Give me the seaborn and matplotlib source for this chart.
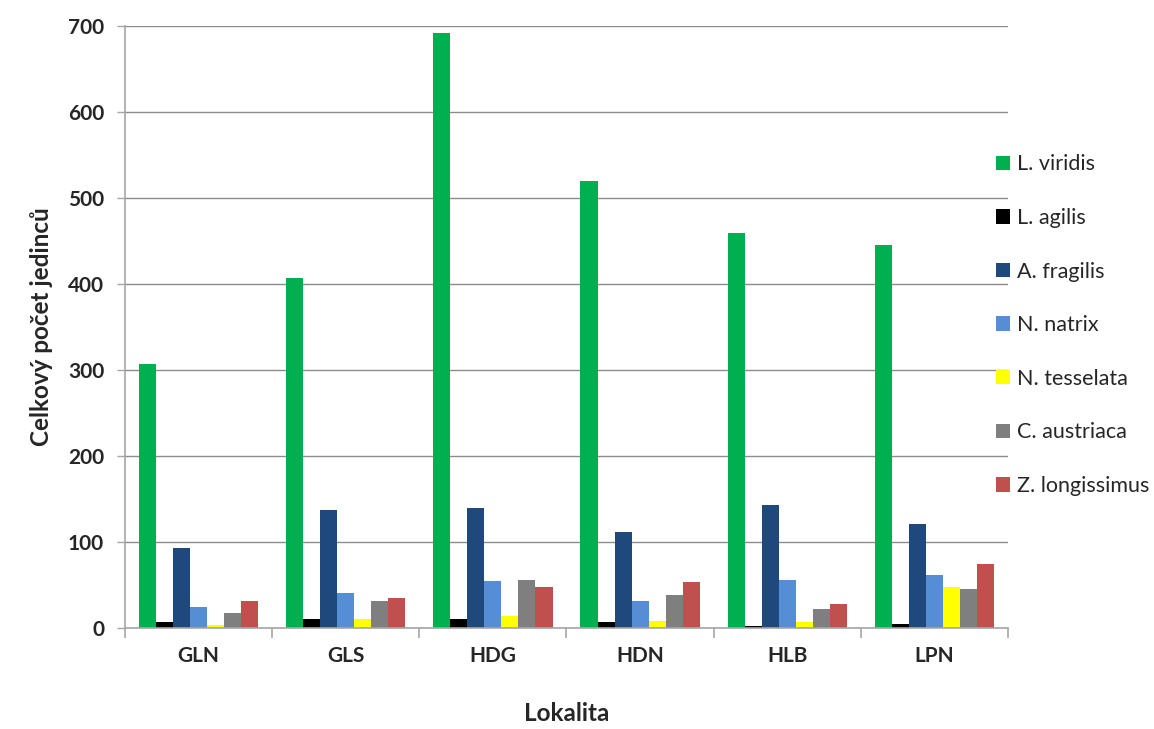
import numpy as np
import pandas as pd
import matplotlib
matplotlib.use("Agg")
import matplotlib.pyplot as plt
import seaborn as sns

sites = ["GLN", "GLS", "HDG", "HDN", "HLB", "LPN"]
species = ["L. viridis", "L. agilis", "A. fragilis", "N. natrix",
           "N. tesselata", "C. austriaca", "Z. longissimus"]

l_viridis = [307, 407, 692, 520, 459, 445]
l_agilis = [7, 10, 10, 7, 2, 5]
a_fragilis = [93, 137, 139, 112, 143, 121]
n_natrix = [25, 41, 55, 31, 56, 62]
n_tesselata = [3, 10, 14, 8, 7, 48]
c_austriaca = [17, 31, 56, 38, 22, 45]
z_longissimus = [31, 35, 48, 53, 28, 74]

colors = ["#00B050", "#000000", "#1F497D", "#558ED5",
          "#FFFF00", "#7F7F7F", "#C0504D"]

series = [l_viridis, l_agilis, a_fragilis, n_natrix,
          n_tesselata, c_austriaca, z_longissimus]
df = pd.DataFrame({
    "Lokalita": np.tile(sites, len(species)),
    "Druh": np.repeat(species, len(sites)),
    "Počet": np.concatenate(series),
})

sns.set_theme(style="white")
plt.rcParams["font.family"] = ["Lato", "DejaVu Sans"]

fig = plt.figure(figsize=(11.54, 7.29), dpi=100)
ax = fig.add_axes([0.1083, 0.1385, 0.7652, 0.8258])

sns.barplot(data=df, x="Lokalita", y="Počet", hue="Druh",
            order=sites, hue_order=species, palette=colors, saturation=1,
            width=0.81, gap=0, edgecolor="none", errorbar=None, ax=ax)

ax.set_ylim(0, 700)
ax.set_xlim(-0.5, len(sites) - 0.5)
ax.set_yticks(np.arange(0, 701, 100))
ax.yaxis.grid(True, color="#8C8C8C", linewidth=1.0)
ax.set_axisbelow(True)

for side in ("top", "right"):
    ax.spines[side].set_visible(False)
for side in ("left", "bottom"):
    ax.spines[side].set_color("#A6A6A6")
    ax.spines[side].set_linewidth(1.2)

# category separators as outward tick marks on the x axis
ax.set_xticks(np.arange(-0.5, len(sites), 1.0), minor=True)
ax.tick_params(axis="x", which="major", length=0, pad=13)
ax.tick_params(axis="x", which="minor", length=7, width=1.2,
               color="#A6A6A6", direction="out", bottom=True)
ax.tick_params(axis="y", which="major", length=6, width=1.0,
               color="#A6A6A6", direction="out", left=True, pad=9)

for lab in ax.get_xticklabels() + ax.get_yticklabels():
    lab.set_fontweight("bold")
    lab.set_fontsize(15)

ax.set_xlabel("Lokalita", fontsize=17.5, fontweight="bold", labelpad=26)
ax.set_ylabel("Celkový počet jedinců", fontsize=17.5, fontweight="bold",
              labelpad=11)

handles, labels = ax.get_legend_handles_labels()
ax.legend(handles, labels, loc="center left", bbox_to_anchor=(0.977, 0.503),
          frameon=False, fontsize=15.5, handlelength=0.65, handleheight=0.65,
          handletextpad=0.3, labelspacing=1.56, borderaxespad=0)

fig.savefig("out.png", dpi=100, facecolor="white")
